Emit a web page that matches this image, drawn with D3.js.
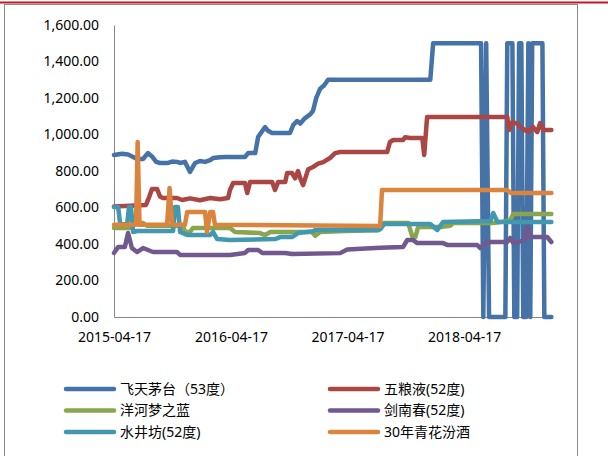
<!DOCTYPE html>
<html lang="zh">
<head>
<meta charset="UTF-8">
<title>白酒价格</title>
<script src="https://d3js.org/d3.v7.min.js"></script>
<style>
    body { margin: 0; background: #fff; }
    text { font-family: "Noto Sans", "Noto Sans CJK SC", sans-serif; font-size: 14px; fill: #000; }
    .axis path { stroke: #868686; stroke-width: 1; }
    .series { fill: none; stroke-width: 4.5; stroke-linejoin: round; stroke-linecap: round; }
</style>
</head>
<body>
<script>
    const width = 608;
    const height = 456;

    // tick labels
    const xTicks = ["2015-04-17", "2016-04-17", "2017-04-17", "2018-04-17"];
    const yTicks = [0, 200, 400, 600, 800, 1000, 1200, 1400, 1600];

    const names = ["飞天茅台（53度）", "五粮液(52度)", "洋河梦之蓝", "剑南春(52度)", "水井坊(52度)", "30年青花汾酒"];
    const colors = ["#4572A7", "#AA4643", "#89A54E", "#71588F", "#4198AF", "#DB843D"];

    // price series, [date, price]
    const maotai = [
        ["2015-04-17", 888], ["2015-05-12", 895], ["2015-05-31", 890], ["2015-06-16", 877], ["2015-06-28", 866],
        ["2015-07-17", 866], ["2015-08-01", 898], ["2015-08-14", 880], ["2015-08-27", 850], ["2015-09-08", 844],
        ["2015-10-03", 844], ["2015-10-16", 852], ["2015-10-31", 850], ["2015-11-10", 844], ["2015-11-25", 850],
        ["2015-12-11", 795], ["2015-12-27", 844], ["2016-01-11", 855], ["2016-01-27", 850], ["2016-02-12", 860],
        ["2016-02-21", 871], ["2016-03-14", 875], ["2016-03-30", 877], ["2016-05-31", 877], ["2016-06-10", 898],
        ["2016-07-02", 898], ["2016-07-11", 986], ["2016-08-02", 1041], ["2016-08-11", 1020], ["2016-08-24", 1008],
        ["2016-10-19", 1008], ["2016-10-29", 1052], ["2016-11-10", 1074], ["2016-11-20", 1060], ["2016-12-05", 1090],
        ["2016-12-21", 1110], ["2016-12-30", 1130], ["2017-01-09", 1200], ["2017-01-21", 1250], ["2017-02-03", 1270],
        ["2017-02-15", 1300], ["2018-01-01", 1300], ["2018-01-10", 1500], ["2018-06-09", 1500], ["2018-06-16", 0],
        ["2018-06-25", 1500], ["2018-07-04", 0], ["2018-08-24", 0], ["2018-08-30", 1500], ["2018-09-15", 1500],
        ["2018-09-21", 0], ["2018-09-30", 0], ["2018-10-06", 1500], ["2018-10-13", 1500], ["2018-10-19", 0],
        ["2018-10-28", 0], ["2018-11-04", 1500], ["2018-11-10", 0], ["2018-11-16", 1500], ["2018-12-18", 1500],
        ["2018-12-24", 0], ["2019-01-15", 0]
    ];
    const wuliangye = [
        ["2015-04-17", 605], ["2015-06-06", 610], ["2015-07-26", 614], ["2015-08-05", 657], ["2015-08-14", 701],
        ["2015-08-30", 701], ["2015-09-08", 660], ["2015-09-17", 652], ["2015-10-31", 652], ["2015-11-16", 641],
        ["2015-12-11", 650], ["2016-01-11", 640], ["2016-02-12", 652], ["2016-03-14", 645], ["2016-04-08", 652],
        ["2016-04-14", 696], ["2016-04-24", 734], ["2016-05-31", 734], ["2016-06-07", 679], ["2016-06-16", 740],
        ["2016-08-24", 740], ["2016-09-02", 696], ["2016-09-12", 740], ["2016-10-04", 740], ["2016-10-10", 789],
        ["2016-10-25", 789], ["2016-11-04", 760], ["2016-11-13", 800], ["2016-11-20", 760], ["2016-11-29", 723],
        ["2016-12-15", 810], ["2016-12-30", 822], ["2017-01-15", 840], ["2017-01-31", 849], ["2017-02-21", 871],
        ["2017-03-09", 898], ["2017-03-25", 904], ["2017-08-19", 904], ["2017-08-28", 959], ["2017-09-07", 970],
        ["2017-10-08", 970], ["2017-10-14", 985], ["2017-10-30", 981], ["2017-12-07", 981], ["2017-12-13", 888],
        ["2017-12-22", 1096], ["2018-08-30", 1096], ["2018-09-05", 1025], ["2018-09-15", 1068], ["2018-09-30", 1060],
        ["2018-10-10", 1040], ["2018-10-19", 1030], ["2018-11-04", 1014], ["2018-11-19", 1040], ["2018-12-02", 1014],
        ["2018-12-11", 1063], ["2018-12-21", 1025], ["2019-01-15", 1025]
    ];
    const yanghe = [
        ["2015-04-17", 488], ["2015-06-06", 488], ["2015-06-16", 515], ["2015-07-17", 515], ["2015-07-29", 500],
        ["2015-11-19", 500], ["2015-11-25", 466], ["2015-12-11", 466], ["2015-12-20", 488], ["2016-04-14", 488],
        ["2016-04-30", 466], ["2016-07-17", 460], ["2016-08-02", 449], ["2016-08-18", 466], ["2016-11-04", 466],
        ["2016-12-27", 466], ["2017-01-06", 445], ["2017-01-21", 466], ["2017-04-10", 471], ["2017-07-22", 475],
        ["2017-08-07", 515], ["2017-10-24", 515], ["2017-11-05", 445], ["2017-11-15", 438], ["2017-11-24", 493],
        ["2018-02-01", 493], ["2018-03-04", 500], ["2018-03-14", 515], ["2018-07-17", 515], ["2018-08-08", 520],
        ["2018-09-08", 530], ["2018-09-18", 564], ["2019-01-15", 564]
    ];
    const jiannanchun = [
        ["2015-04-17", 351], ["2015-04-30", 384], ["2015-05-21", 384], ["2015-05-31", 460], ["2015-06-12", 378],
        ["2015-06-28", 356], ["2015-07-17", 378], ["2015-08-17", 356], ["2015-10-31", 356], ["2015-11-10", 340],
        ["2016-04-14", 340], ["2016-05-31", 351], ["2016-06-10", 367], ["2016-07-11", 367], ["2016-07-24", 351],
        ["2016-10-04", 351], ["2016-10-25", 345], ["2017-03-25", 350], ["2017-04-16", 370], ["2017-07-28", 380],
        ["2017-10-08", 384], ["2017-10-21", 422], ["2017-11-08", 422], ["2017-11-21", 405], ["2018-02-10", 405],
        ["2018-02-23", 395], ["2018-05-28", 395], ["2018-06-06", 378], ["2018-06-28", 411], ["2018-08-30", 411],
        ["2018-09-08", 433], ["2018-09-18", 405], ["2018-10-22", 420], ["2018-11-01", 493], ["2018-11-10", 438],
        ["2019-01-02", 438], ["2019-01-15", 411]
    ];
    const shuijingfang = [
        ["2015-04-17", 603], ["2015-04-30", 603], ["2015-05-06", 515], ["2015-05-28", 505], ["2015-06-03", 603],
        ["2015-06-09", 603], ["2015-06-16", 466], ["2015-06-28", 471], ["2015-10-19", 471], ["2015-10-25", 603],
        ["2015-11-03", 603], ["2015-11-10", 466], ["2015-12-02", 449], ["2016-02-12", 449], ["2016-02-21", 466],
        ["2016-03-05", 427], ["2016-04-14", 422], ["2016-09-02", 427], ["2016-09-18", 438], ["2016-10-25", 438],
        ["2016-11-13", 460], ["2016-12-30", 470], ["2017-01-06", 477], ["2017-07-19", 477], ["2017-07-28", 480],
        ["2017-08-10", 510], ["2018-01-01", 510], ["2018-01-23", 477], ["2018-02-10", 520], ["2018-07-08", 526],
        ["2018-07-17", 570], ["2018-07-30", 521], ["2019-01-15", 521]
    ];
    const fenjiu = [
        ["2015-04-17", 505], ["2015-06-25", 505], ["2015-06-30", 959], ["2015-07-06", 505], ["2015-09-30", 505],
        ["2015-10-08", 707], ["2015-10-16", 505], ["2015-11-25", 505], ["2015-12-02", 575], ["2016-01-27", 575],
        ["2016-02-02", 466], ["2016-02-12", 575], ["2016-02-21", 575], ["2016-02-27", 505], ["2017-07-28", 499],
        ["2017-08-03", 696], ["2018-08-30", 696], ["2018-09-11", 679], ["2019-01-15", 679]
    ];

    const allSeries = [maotai, wuliangye, yanghe, jiannanchun, shuijingfang, fenjiu];

    const parse = d3.timeParse("%Y-%m-%d");

    const svg = d3.select("body").append("svg")
        .attr("width", width).attr("height", height);

    // outer frame + red top rule
    svg.append("rect")
        .attr("x", 4.5).attr("y", 4.5)
        .attr("width", 573).attr("height", 470)
        .attr("fill", "none").attr("stroke", "#8a8a8a").attr("stroke-width", 1);
    svg.append("line")
        .attr("x1", 0).attr("x2", width).attr("y1", 2.5).attr("y2", 2.5)
        .attr("stroke", "#C8161D").attr("stroke-width", 2);

    const x = d3.scaleTime()
        .domain([parse("2015-04-17"), parse("2019-01-17")])
        .range([114, 552]);
    const y = d3.scaleLinear()
        .domain([0, 1600])
        .range([317, 25]);

    svg.append("g")
        .attr("class", "axis")
        .attr("transform", "translate(114,0)")
        .call(d3.axisLeft(y).tickValues(yTicks).tickSize(0).tickPadding(15).tickFormat(d3.format(",.2f")))
        .call(g => g.selectAll("text").attr("font-family", null).attr("font-size", null));

    svg.append("g")
        .attr("class", "axis")
        .attr("transform", "translate(0,317)")
        .call(d3.axisBottom(x).tickValues(xTicks.map(parse)).tickSize(0).tickPadding(15)
            .tickFormat(d3.timeFormat("%Y-%m-%d")))
        .call(g => g.selectAll("text").attr("font-family", null).attr("font-size", null));

    const line = d3.line()
        .x(d => x(parse(d[0])))
        .y(d => y(d[1]));

    svg.selectAll("path.series")
        .data(allSeries)
        .enter()
        .append("path")
        .attr("class", "series")
        .attr("stroke", (d, i) => colors[i])
        .attr("d", line);

    // legend, two columns
    const legend = svg.selectAll("g.legend")
        .data(names)
        .enter()
        .append("g")
        .attr("class", "legend")
        .attr("transform", (d, i) => `translate(${i % 2 ? 330 : 66},${389 + Math.floor(i / 2) * 21.5})`);

    legend.append("line")
        .attr("x1", 0).attr("x2", 48)
        .attr("stroke", (d, i) => colors[i])
        .attr("stroke-width", 4.5)
        .attr("stroke-linecap", "round");

    legend.append("text")
        .attr("x", 54)
        .attr("dy", "0.35em")
        .text(d => d);
</script>
</body>
</html>
